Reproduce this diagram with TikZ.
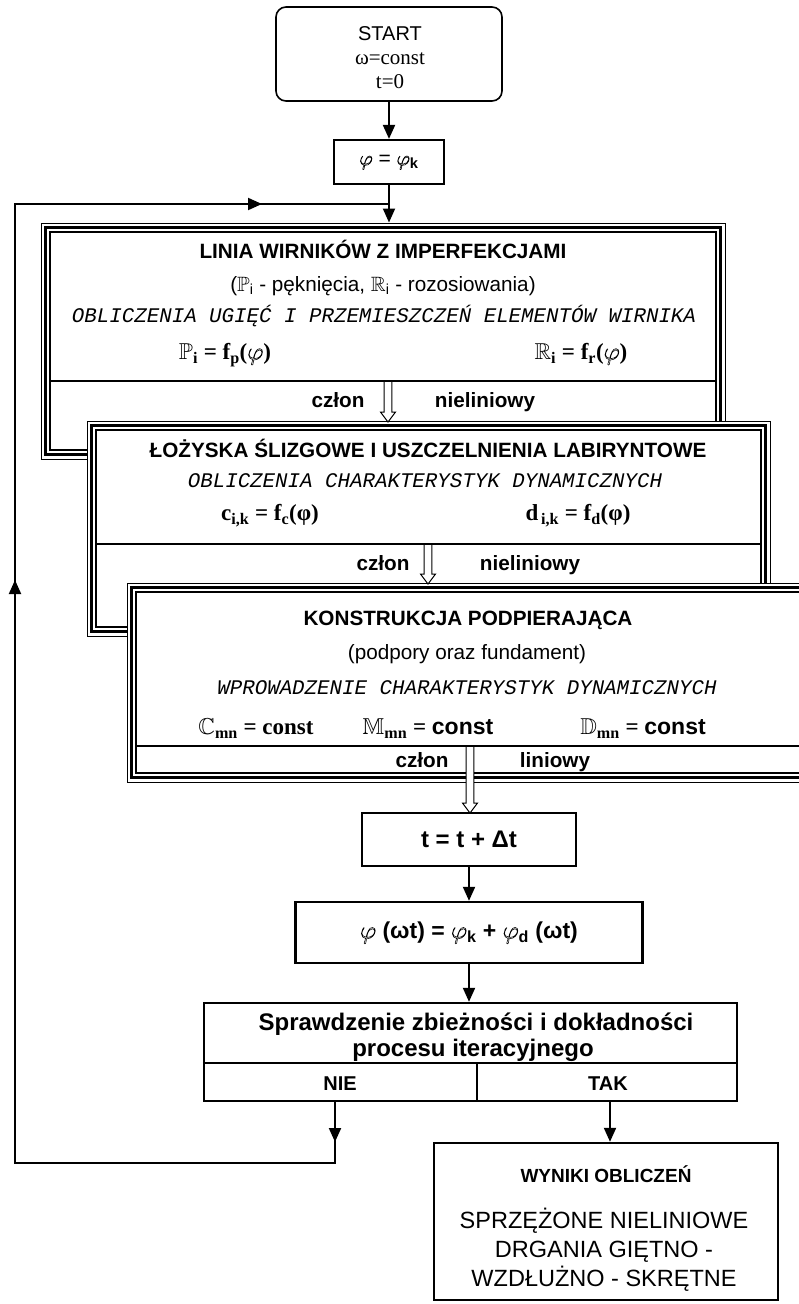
\documentclass[tikz,border=0pt]{standalone}
\usepackage{amsmath,amssymb}
\usepackage{fontspec}
\setmainfont{Liberation Serif}
\setsansfont{Liberation Sans}
\setmonofont{Liberation Mono}
\usetikzlibrary{arrows.meta}

% outlined (hollow) glyph: text render mode "stroke"
\newcommand{\hollowglyph}[1]{\special{pdf:literal direct 1 Tr 0.55 w}#1\special{pdf:literal direct 0 Tr}}
\newcommand{\hphi}{\hollowglyph{$\varphi$}}

% module frame: thin outer line, thick middle line, thin inner line
\newcommand{\tribox}[4]{%
  \fill[white] (#1,#2) rectangle (#3,#4);
  \draw[line width=1pt] (#1,#2) rectangle (#3,#4);
  \draw[line width=2.4pt] (#1+4.5,#2+4.5) rectangle (#3-4.5,#4-4.5);
  \draw[line width=1.2pt] (#1+9,#2+9) rectangle (#3-9,#4-9);}

% hollow block arrow: x, start y, tip y
\newcommand{\hollowarrow}[3]{%
  \filldraw[fill=white, line width=1pt, line join=miter]
    (#1-3.8,#2+1) -- (#1-3.8,#3-10) -- (#1-7.5,#3-10) -- (#1,#3)
    -- (#1+7.5,#3-10) -- (#1+3.8,#3-10) -- (#1+3.8,#2+1);}

\begin{document}
\begin{tikzpicture}[x=1pt,y=-1pt,
  conn/.style={line width=2pt, line join=miter},
  arr/.style={line width=2pt, -{Triangle[length=14pt,width=12pt]}},
  boxline/.style={draw, line width=2.4pt, inner sep=0pt, fill=white},
  lbl/.style={inner sep=0pt, text height=14.8pt, text depth=0pt, anchor=center},
  ttl/.style={lbl, font=\fontsize{20.7}{24}\selectfont\sffamily\bfseries},
  subt/.style={lbl, font=\fontsize{20.7}{24}\selectfont\sffamily},
  calcline/.style={lbl, text height=13.5pt, font=\fontsize{20.8}{24}\selectfont\ttfamily\itshape},
  frm/.style={lbl, text height=15.2pt, font=\fontsize{23}{26}\selectfont\rmfamily\bfseries},
  rowlbl/.style={lbl, font=\fontsize{20.7}{24}\selectfont\sffamily\bfseries},
  divider/.style={line width=2pt}]

\useasboundingbox (0,0) rectangle (799,1304);
\clip (0,0) rectangle (799,1304);

% ---------- start and initial angle ----------
\node[boxline, rounded corners=10pt, line width=1.6pt,
      minimum width=226pt, minimum height=94pt] (start) at (389,54) {};
\node[lbl, text height=14.3pt, font=\fontsize{20}{22}\selectfont\sffamily] (startT) at (390,33) {START};
\node[lbl, text height=9.5pt, font=\fontsize{21}{22}\selectfont\rmfamily] (startW) at (390,60) {ω=const};
\node[lbl, text height=13.8pt, font=\fontsize{21}{22}\selectfont\rmfamily] (startZ) at (390,82) {t=0};

\node[boxline, line width=2.2pt, minimum width=110pt, minimum height=44pt,
      font=\fontsize{21}{22}\selectfont\sffamily] (phi0) at (389,162)
      {\hphi\ = \hphi\textsubscript{\textbf{k}}};

% ---------- module 1: rotor line ----------
\tribox{41}{223}{725}{459}
\draw[divider] (50,381) -- (716,381);
\node[ttl] (m1t) at (383,251) {LINIA WIRNIKÓW Z IMPERFEKCJAMI};
\node[subt] (m1s) at (383,284) {($\mathbb{P}$\textsubscript{i} - pęknięcia, $\mathbb{R}$\textsubscript{i} - rozosiowania)};
\node[calcline] (m1c) at (384,316) {OBLICZENIA UGIĘĆ I PRZEMIESZCZEŃ ELEMENTÓW WIRNIKA};
\node[frm] (m1p) at (225,352) {$\mathbb{P}$\textsubscript{i} = f\textsubscript{p}(\hphi)};
\node[frm] (m1r) at (581,352) {$\mathbb{R}$\textsubscript{i} = f\textsubscript{r}(\hphi)};
\node[rowlbl] (m1a) at (338,400) {człon};
\node[rowlbl] (m1b) at (485,400) {nieliniowy};

% ---------- module 2: bearings and seals ----------
\tribox{87}{421}{770}{636}
\draw[divider] (96,544) -- (761,544);
\hollowarrow{388}{381}{422}
\node[ttl] (m2t) at (428,450) {ŁOŻYSKA ŚLIZGOWE I USZCZELNIENIA LABIRYNTOWE};
\node[calcline] (m2c) at (425,481) {OBLICZENIA CHARAKTERYSTYK DYNAMICZNYCH};
\node[frm] (m2c1) at (270,513) {c\textsubscript{i,k} = f\textsubscript{c}(φ)};
\node[frm] (m2d1) at (578,513) {d\textsubscript{\,i,k} = f\textsubscript{d}(φ)};
\node[rowlbl] (m2a) at (383,563) {człon};
\node[rowlbl] (m2b) at (530,563) {nieliniowy};

% ---------- module 3: supporting structure ----------
\tribox{127}{583}{830}{782}
\draw[divider] (136,746) -- (821,746);
\hollowarrow{428}{544}{584}
\node[ttl] (m3t) at (468,618) {KONSTRUKCJA PODPIERAJĄCA};
\node[subt] (m3s) at (467,652) {(podpory oraz fundament)};
\node[calcline] (m3c) at (467,688) {WPROWADZENIE CHARAKTERYSTYK DYNAMICZNYCH};
\node[frm] (m3cm) at (256,727) {$\mathbb{C}$\textsubscript{mn} = const};
\node[frm] (m3mm) at (428,727) {$\mathbb{M}$\textsubscript{mn} = {\sffamily const}};
\node[frm] (m3dm) at (643,727) {$\mathbb{D}$\textsubscript{mn} = {\sffamily const}};
\node[rowlbl] (m3a) at (422,760) {człon};
\node[rowlbl] (m3b) at (555,760) {liniowy};

% ---------- time step and angle update ----------
\node[boxline, minimum width=214pt, minimum height=53pt,
      font=\fontsize{24}{26}\selectfont\sffamily\bfseries] (tstep) at (469,839.5) {t = t + Δt};
\hollowarrow{470}{746}{813}

\node[boxline, minimum width=347pt, minimum height=61pt,
      font=\fontsize{23}{26}\selectfont\sffamily\bfseries] (phiwt) at (469,932.5)
      {\hphi\ (ωt) = \hphi\textsubscript{k} + \hphi\textsubscript{d} (ωt)};

% ---------- convergence check ----------
\node[boxline, minimum width=533pt, minimum height=98pt] (check) at (470.5,1052) {};
\coordinate (chkdiv) at (0,1063);
\coordinate (chkmid) at (477,1063);
\draw[divider, line width=2.4pt] (check.west |- chkdiv) -- (check.east |- chkdiv);
\draw[divider, line width=2.4pt] (chkmid) -- (chkmid |- check.south);
\node[lbl, text height=17.2pt, font=\fontsize{24}{26}\selectfont\sffamily\bfseries] (chk1) at (476,1022)
      {Sprawdzenie zbieżności i dokładności};
\node[lbl, text height=17.2pt, font=\fontsize{24}{26}\selectfont\sffamily\bfseries] (chk2) at (473,1048)
      {procesu iteracyjnego};
\node[lbl, text height=14.3pt, font=\fontsize{20}{22}\selectfont\sffamily\bfseries] (nie) at (340,1083) {NIE};
\node[lbl, text height=14.3pt, font=\fontsize{20}{22}\selectfont\sffamily\bfseries] (tak) at (608,1083) {TAK};

% ---------- results ----------
\node[boxline, minimum width=344pt, minimum height=157pt] (result) at (606,1221.5) {};
\node[lbl, text height=13.6pt, font=\fontsize{19}{22}\selectfont\sffamily\bfseries] (res1) at (606,1176) {WYNIKI OBLICZEŃ};
\node[lbl, text height=16.8pt, font=\fontsize{23.5}{26}\selectfont\sffamily] (res2) at (604,1220) {SPRZĘŻONE NIELINIOWE};
\node[lbl, text height=16.8pt, font=\fontsize{23.5}{26}\selectfont\sffamily] (res3) at (604,1249) {DRGANIA GIĘTNO -};
\node[lbl, text height=16.8pt, font=\fontsize{23.5}{26}\selectfont\sffamily] (res4) at (604,1278) {WZDŁUŻNO - SKRĘTNE};

% ---------- connectors ----------
\draw[arr] (start.south) -- (phi0.north);
\coordinate (join) at (389,204);
\coordinate (m1top) at (389,222.5);
\draw[conn] (phi0.south) -- (join);
\draw[arr] (join) -- (m1top);

\draw[arr] (tstep.south) -- (phiwt.north);
\draw[arr] (phiwt.south) -- (phiwt.south |- check.north);

% iteration loop back (NIE)
\coordinate (nieTop) at (335,1102);
\coordinate (nieMid) at (335,1142);
\coordinate (nieBot) at (335,1163);
\coordinate (loopBL) at (15,1163);
\coordinate (loopUp) at (15,580);
\coordinate (loopTL) at (15,204);
\coordinate (loopR) at (262,204);
\draw[conn] (nieTop) -- (nieBot) -- (loopBL) -- (loopTL) -- (join);
\draw[arr] (nieTop) -- (nieMid);
\draw[arr] (loopBL) -- (loopUp);
\draw[arr] (loopTL) -- (loopR);

% converged (TAK)
\coordinate (takTop) at (610,1102);
\draw[arr] (takTop) -- (takTop |- result.north);
\end{tikzpicture}
\end{document}
